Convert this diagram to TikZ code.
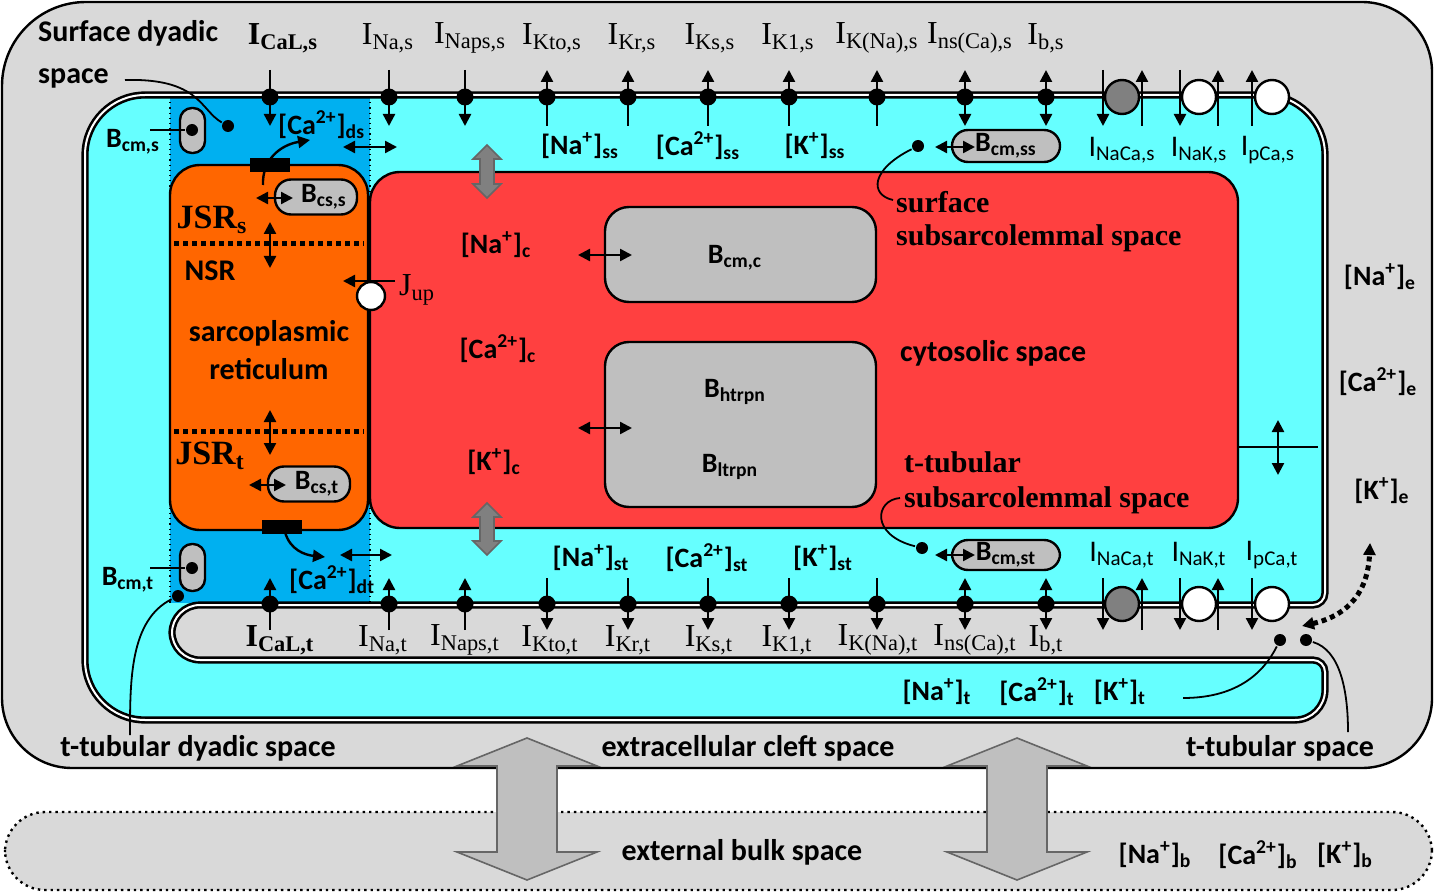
\documentclass[tikz,border=0pt]{standalone}
\usepackage{fontspec}
\setmainfont{Carlito}
\newfontfamily\tms{Liberation Serif}
\usepackage{tikz}
\usetikzlibrary{arrows.meta,positioning}
\definecolor{bggray}{HTML}{D9D9D9}
\definecolor{cellcyan}{HTML}{66FFFF}
\definecolor{dyadblue}{HTML}{00B0F0}
\definecolor{srorange}{HTML}{FF6600}
\definecolor{cytored}{HTML}{FF4040}
\definecolor{bufgray}{HTML}{BFBFBF}
\definecolor{excgray}{HTML}{808080}
\newcommand{\fatarrow}[7]{%
  \filldraw[fill=#7,draw=black!60,line width=0.8pt]
    ({#1-#4},{#2+#6}) -- ({#1-#5},{#2+#6}) -- (#1,#2) -- ({#1+#5},{#2+#6}) -- ({#1+#4},{#2+#6})
    -- ({#1+#4},{#3-#6}) -- ({#1+#5},{#3-#6}) -- (#1,#3) -- ({#1-#5},{#3-#6}) -- ({#1-#4},{#3-#6}) -- cycle;}

\begin{document}
\begin{tikzpicture}[x=0.5pt,y=-0.5pt,line width=1.2pt,
    >={Triangle[length=6pt,width=6pt]},
    membrane/.style={draw=black,line width=1.3pt,double=white,double distance=1pt},
    lab/.style={font=\fontsize{14}{16}\selectfont\bfseries,inner sep=0pt},
    big/.style={font=\fontsize{15}{17}\selectfont\bfseries,inner sep=0pt},
    tlab/.style={font=\tms\fontsize{15}{17}\selectfont\bfseries,inner sep=0pt},
    cur/.style={font=\tms\fontsize{16}{18}\selectfont,inner sep=0pt},
    pump/.style={font=\fontsize{15}{17}\selectfont,inner sep=0pt},
    buf/.style={draw,fill=bufgray,line width=1.2pt,rounded corners=8pt,inner sep=0pt,
      font=\fontsize{14}{16}\selectfont\bfseries},
    dot/.style={circle,fill=black,inner sep=0pt,minimum size=6pt},
    chan/.style={circle,fill=black,inner sep=0pt,minimum size=8.5pt},
    cin/.style={->},cout/.style={<-},cboth/.style={<->}]
\useasboundingbox (0,0) rectangle (1434,893);

% spaces
\filldraw[fill=bggray,rounded corners=35pt] (1432,300) -- (1432,768) -- (2,768)
  [rounded corners=42pt] -- (2,2) [rounded corners=35pt] -- (1432,2) -- cycle;
\filldraw[fill=bggray,dotted,rounded corners=20pt] (5,812) rectangle (1432,890);
\fill[cellcyan,rounded corners=30pt] (700,95) -- (1325,95) [rounded corners=6pt] -- (1325,605)
  [rounded corners=14pt] -- (172,605) -- (172,660) [rounded corners=6pt] -- (1325,660)
  [rounded corners=15pt] -- (1325,720) [rounded corners=30pt] -- (85,720) -- (85,95) -- cycle;
\fill[dyadblue] (170,97) rectangle (370,603);
\draw[dotted,line width=0.6pt] (170,97) -- (170,603) (370,97) -- (370,603);
\draw[membrane,rounded corners=30pt] (700,95) -- (1325,95) [rounded corners=6pt] -- (1325,605)
  [rounded corners=14pt] -- (172,605) -- (172,660) [rounded corners=6pt] -- (1325,660)
  [rounded corners=15pt] -- (1325,720) [rounded corners=30pt] -- (85,720) -- (85,95) -- cycle;
\filldraw[fill=srorange,rounded corners=15pt] (170,165) rectangle (368,530);
\filldraw[fill=cytored,rounded corners=15pt] (370,172) rectangle (1238,528);
\draw (1238,447) -- (1318,447);
\draw[<->] (1278,420) -- (1278,475);

% sarcoplasmic reticulum
\draw[dotted,line width=2.5pt] (174,244) -- (364,244) (174,431) -- (364,431);
\node[tlab,font=\tms\fontsize{17}{19}\selectfont\bfseries] (jsrs) at (212,220) {JSR\textsubscript{s}};
\node[big] (nsr) at (210,271) {NSR};
\node[big,align=center] (sr) at (269,350) {sarcoplasmic\\[2pt]reticulum};
\node[tlab,font=\tms\fontsize{17}{19}\selectfont\bfseries] (jsrt) at (210,456) {JSR\textsubscript{t}};
\draw[<->] (270,222) -- (270,268);
\draw[<->] (270,410) -- (270,455);
\node[buf,minimum width=41pt,minimum height=17.5pt] (bcss) at (316,197) {\hspace{8pt}B\textsubscript{cs,s}};
\node[buf,minimum width=41pt,minimum height=17.5pt] (bcst) at (309,484) {\hspace{8pt}B\textsubscript{cs,t}};
\draw[<->] (256,198) -- (293,198);
\draw[<->] (249,485) -- (286,485);
\fill (250,158) rectangle (290,172);
\fill (262,520) rectangle (302,534);
\draw[->] (263,185) .. controls (262,160) and (280,145) .. (310,140);
\draw[->] (285,532) .. controls (290,550) and (305,555) .. (325,557);
\node[circle,draw,fill=white,minimum size=14pt,inner sep=0pt] (jup) at (371,296) {};
\draw[->] (395,281) -- (343,281);
\node[cur,anchor=west] at (398,290) {J\textsubscript{up}};

% dyadic spaces
\node[lab,anchor=west] (cads) at (277,125) {[Ca\textsuperscript{2+}]\textsubscript{ds}};
\node[lab,anchor=west] (cadt) at (288,580) {[Ca\textsuperscript{2+}]\textsubscript{dt}};
\draw[<->] (343,147) -- (397,147);
\draw[<->] (340,555) -- (392,555);
\filldraw[fill=bufgray,rounded corners=6pt] (180,108) rectangle (205,153);
\filldraw[fill=bufgray,rounded corners=6pt] (180,544) rectangle (205,591);
\node[dot] (bms) at (192,130) {};
\node[dot] (bmt) at (192,568) {};
\draw (150,130) -- (bms);
\draw (150,568) -- (bmt);
\node[lab] at (133,142) {B\textsubscript{cm,s}};
\node[lab] at (128,580) {B\textsubscript{cm,t}};
\node[big,anchor=west,align=left] at (37,33) {Surface dyadic};
\node[big,anchor=west] (spc) at (37,78) {space};
\node[dot] (dsd) at (228,126) {};
\draw[line width=0.9pt] (125,80) .. controls (200,78) and (200,110) .. (dsd);
\node[dot] (dtd) at (178,596) {};
\node[big] (tdy) at (198,748) {t-tubular dyadic space};
\draw[line width=0.9pt] (dtd) .. controls (130,620) and (130,680) .. (130,735);

% cytosol
\fatarrow{487}{145}{198}{7}{14}{14}{excgray}
\fatarrow{487}{503}{555}{7}{14}{14}{excgray}
\node[lab] at (496,245) {[Na\textsuperscript{+}]\textsubscript{c}};
\node[lab] at (498,349) {[Ca\textsuperscript{2+}]\textsubscript{c}};
\node[lab] at (494,462) {[K\textsuperscript{+}]\textsubscript{c}};
\filldraw[fill=bufgray,rounded corners=12pt] (605,207) rectangle (876,302);
\filldraw[fill=bufgray,rounded corners=12pt] (605,342) rectangle (876,507);
\node[lab] (bcmc) at (735,258) {B\textsubscript{cm,c}};
\node[lab] (bhtrpn) at (735,392) {B\textsubscript{htrpn}};
\node[lab] (bltrpn) at (730,467) {B\textsubscript{ltrpn}};
\draw[<->] (578,255) -- (632,255);
\draw[<->] (578,428) -- (632,428);
\node[tlab,anchor=west] (ssurf) at (895,202) {surface};
\node[tlab,anchor=west] at (895,238) {subsarcolemmal space};
\node[big,anchor=west] (cyto) at (899,353) {cytosolic space};
\node[tlab,anchor=west] (stub) at (903,462) {t-tubular};
\node[tlab,anchor=west] at (903,500) {subsarcolemmal space};

% subsarcolemmal spaces
\node[lab] at (580,146) {[Na\textsuperscript{+}]\textsubscript{ss}};
\node[lab] at (698,146) {[Ca\textsuperscript{2+}]\textsubscript{ss}};
\node[lab] at (815,146) {[K\textsuperscript{+}]\textsubscript{ss}};
\node[lab] at (591,558) {[Na\textsuperscript{+}]\textsubscript{st}};
\node[lab] at (707,558) {[Ca\textsuperscript{2+}]\textsubscript{st}};
\node[lab] at (823,558) {[K\textsuperscript{+}]\textsubscript{st}};
\node[buf,minimum width=54pt,minimum height=16pt] (bcmss) at (1006,146) {B\textsubscript{cm,ss}};
\node[buf,minimum width=54pt,minimum height=15pt] (bcmst) at (1006,555) {B\textsubscript{cm,st}};
\node[dot] (sss) at (918,146) {};
\node[dot] (sst) at (922,548) {};
\draw[<->] (935,147) -- (975,147);
\draw[<->] (935,555) -- (975,555);
\draw[line width=0.9pt] (sss) .. controls (870,170) and (870,195) .. (893,200);
\draw[line width=0.9pt] (sst) .. controls (870,535) and (875,500) .. (900,498);

% channels
\foreach \x/\d in {270/cin,389/cin,465/cin,547/cout,628/cout,708/cout,789/cout,877/cout,965/cboth,1046/cboth}{
  \draw[\d] (\x,70) -- (\x,126);
  \draw[\d] (\x,630) -- (\x,578);
  \node[chan] at (\x,97) {};
  \node[chan] at (\x,604) {};
}
\foreach \x/\t in {283/{\textbf{I}\textsubscript{\textbf{CaL,s}}},388/{I\textsubscript{Na,s}},470/{I\textsubscript{Naps,s}},
    552/{I\textsubscript{Kto,s}},632/{I\textsubscript{Kr,s}},710/{I\textsubscript{Ks,s}},788/{I\textsubscript{K1,s}},
    877/{I\textsubscript{K(Na),s}},970/{I\textsubscript{ns(Ca),s}},1046/{I\textsubscript{b,s}}}
  \node[cur] at (\x,38) {\t};
\foreach \x/\t in {280/{\textbf{I}\textsubscript{\textbf{CaL,t}}},383/{I\textsubscript{Na,t}},465/{I\textsubscript{Naps,t}},
    550/{I\textsubscript{Kto,t}},628/{I\textsubscript{Kr,t}},709/{I\textsubscript{Ks,t}},787/{I\textsubscript{K1,t}},
    878/{I\textsubscript{K(Na),t}},975/{I\textsubscript{ns(Ca),t}},1046/{I\textsubscript{b,t}}}
  \node[cur] at (\x,640) {\t};

% exchangers and pumps
\foreach \y/\a/\b in {97/70/126,604/578/630}{
  \draw[->] (1103,\a) -- (1103,\b);
  \draw[->] (1180,\a) -- (1180,\b);
  \draw[->] (1142,\b) -- (1142,\a);
  \draw[->] (1218,\b) -- (1218,\a);
  \node[circle,draw,fill=excgray,minimum size=17pt,inner sep=0pt] at (1122,\y) {};
  \node[circle,draw,fill=white,minimum size=17pt,inner sep=0pt] at (1199,\y) {};
  \node[circle,draw,fill=white,minimum size=17pt,inner sep=0pt] at (1272,\y) {};
}
\draw[->] (1252,126) -- (1252,70);
\draw[->] (1252,578) -- (1252,630);
\node[pump] at (1122,150) {I\textsubscript{NaCa,s}};
\node[pump] at (1199,150) {I\textsubscript{NaK,s}};
\node[pump] at (1268,150) {I\textsubscript{pCa,s}};
\node[pump] at (1122,555) {I\textsubscript{NaCa,t}};
\node[pump] at (1199,555) {I\textsubscript{NaK,t}};
\node[pump] at (1272,555) {I\textsubscript{pCa,t}};

% t-tubular space
\node[lab] at (937,692) {[Na\textsuperscript{+}]\textsubscript{t}};
\node[lab] at (1037,692) {[Ca\textsuperscript{2+}]\textsubscript{t}};
\node[lab] at (1120,692) {[K\textsuperscript{+}]\textsubscript{t}};
\node[dot] (tt1) at (1280,640) {};
\node[dot] (tt2) at (1306,640) {};
\node[big] (tts) at (1280,748) {t-tubular space};
\draw[line width=0.9pt] (1183,698) .. controls (1240,698) and (1265,670) .. (tt1);
\draw[line width=0.9pt] (tt2) .. controls (1340,650) and (1348,690) .. (1348,732);
\draw[<->,dotted,line width=2.5pt] (1302,626) .. controls (1350,615) and (1368,590) .. (1370,543);

% extracellular
\node[lab] at (1380,277) {[Na\textsuperscript{+}]\textsubscript{e}};
\node[lab] at (1378,382) {[Ca\textsuperscript{2+}]\textsubscript{e}};
\node[lab] at (1382,491) {[K\textsuperscript{+}]\textsubscript{e}};
\fatarrow{527}{738}{880}{30}{70}{28}{bufgray}
\fatarrow{1017}{738}{880}{30}{70}{28}{bufgray}
\node[big] (cleft) at (748,748) {extracellular cleft space};
\node[big] (bulk) at (742,852) {external bulk space};
\node[lab] at (1155,855) {[Na\textsuperscript{+}]\textsubscript{b}};
\node[lab] at (1258,855) {[Ca\textsuperscript{2+}]\textsubscript{b}};
\node[lab] at (1345,855) {[K\textsuperscript{+}]\textsubscript{b}};
\end{tikzpicture}
\end{document}
